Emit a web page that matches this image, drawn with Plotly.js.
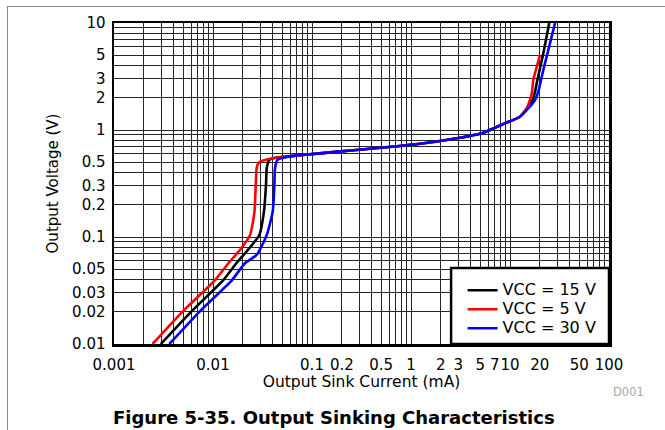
<!DOCTYPE html>
<html>
<head>
<meta charset="utf-8">
<script src="https://cdn.plot.ly/plotly-3.0.1.min.js"></script>
<style>
  html, body { margin: 0; padding: 0; background: #fff; }
  #wrap { position: relative; width: 665px; height: 430px; overflow: hidden; }
  #frame { position: absolute; left: 7px; top: 6px; width: 700px; height: 500px;
           border-left: 1px solid #8a8a8a; border-top: 1px solid #8a8a8a; pointer-events: none; }
</style>
</head>
<body>
<div id="wrap"><div id="chart"></div><div id="frame"></div></div>
<script>
// Output sink current (mA) / output voltage (V)
const red_I = [0.00245, 0.0049, 0.0105, 0.0143, 0.0187, 0.0237, 0.0262, 0.027, 0.0276, 0.0287, 0.031, 0.0407, 0.0555, 0.12, 0.28, 0.77, 1.35, 2.9, 5.4, 8.6, 12.6, 14.7, 15.9, 16.7, 17.2, 20.1];
const red_V = [0.01, 0.02, 0.0396, 0.0568, 0.0756, 0.1045, 0.17, 0.3, 0.44, 0.49, 0.513, 0.544, 0.563, 0.605, 0.65, 0.709, 0.751, 0.836, 0.944, 1.14, 1.33, 1.59, 1.9, 2.28, 2.93, 5.0];

const black_I = [0.00297, 0.006, 0.0127, 0.0172, 0.0225, 0.0294, 0.0327, 0.0343, 0.0349, 0.037, 0.0423, 0.07, 0.12, 0.28, 0.77, 1.35, 2.9, 5.4, 8.6, 12.6, 14.8, 16.9, 17.9, 18.9, 21.7, 24.9];
const black_V = [0.01, 0.02, 0.0396, 0.0568, 0.0756, 0.1045, 0.1725, 0.306, 0.4385, 0.525, 0.55, 0.578, 0.605, 0.65, 0.709, 0.751, 0.836, 0.944, 1.14, 1.33, 1.59, 1.9, 2.28, 2.93, 5.2, 10];

const blue_I = [0.00362, 0.00728, 0.01556, 0.021, 0.0276, 0.0349, 0.0401, 0.0417, 0.0423, 0.0447, 0.0513, 0.08, 0.12, 0.28, 0.77, 1.35, 2.9, 5.4, 8.6, 12.6, 15.3, 17.9, 19.3, 21.7, 24.4, 28.5];
const blue_V = [0.01, 0.02, 0.0396, 0.0568, 0.068, 0.1045, 0.1725, 0.306, 0.4385, 0.525, 0.55, 0.585, 0.605, 0.65, 0.709, 0.751, 0.836, 0.944, 1.14, 1.33, 1.59, 1.905, 2.28, 3.64, 5.6, 10];

const seriesNames = ['VCC = 15 V', 'VCC = 5 V', 'VCC = 30 V'];

// tick labels
const xLabels = ['0.001', '0.01', '0.1', '0.2', '0.5', '1', '2', '3', '5', '7', '10', '20', '50', '100'];
const yLabels = ['0.01', '0.02', '0.03', '0.05', '0.1', '0.2', '0.3', '0.5', '1', '2', '3', '5', '10'];

const xDecades = [-3, -2, -1, 0, 1];
const yDecades = [-2, -1, 0];
const mantissas = [1, 2, 3, 4, 5, 6, 7, 8, 9];

function gridTicks(decades, labels) {
  const vals = [], text = [];
  decades.forEach(d => mantissas.forEach(m => {
    const v = +(m * Math.pow(10, d)).toPrecision(6);
    vals.push(v);
    text.push(labels.indexOf(String(v)) >= 0 ? String(v) : '');
  }));
  const top = +Math.pow(10, decades[decades.length - 1] + 1).toPrecision(6);
  vals.push(top);
  text.push(labels.indexOf(String(top)) >= 0 ? String(top) : '');
  return {vals, text};
}
const xt = gridTicks(xDecades, xLabels);
const yt = gridTicks(yDecades, yLabels);

const FONT = 'DejaVu Sans, Arial, sans-serif';
const lineW = 2.6;

function legendName(s) { return '<span style="font-size:16px">' + s + '</span>'; }

const traces = [
  {x: black_I, y: black_V, name: legendName(seriesNames[0]), mode: 'lines', line: {color: '#000000', width: lineW, shape: 'spline', smoothing: 0.5}},
  {x: red_I, y: red_V, name: legendName(seriesNames[1]), mode: 'lines', line: {color: '#ff0000', width: lineW, shape: 'spline', smoothing: 0.5}},
  {x: blue_I, y: blue_V, name: legendName(seriesNames[2]), mode: 'lines', line: {color: '#0000ff', width: lineW, shape: 'spline', smoothing: 0.5}}
];

const axisCommon = {
  type: 'log',
  showgrid: true,
  gridcolor: '#262626',
  gridwidth: 1,
  showline: true,
  linecolor: '#000',
  linewidth: 2.5,
  mirror: true,
  ticks: '',
  zeroline: false,
  tickmode: 'array',
  tickangle: 0,
  tickfont: {family: FONT, size: 15, color: '#000'},
  fixedrange: true
};

const layout = {
  width: 665,
  height: 430,
  margin: {l: 114, r: 56, t: 23, b: 86},
  paper_bgcolor: '#fff',
  plot_bgcolor: '#fff',
  showlegend: true,
  font: {family: FONT, color: '#000'},
  title: {
    text: '<b>Figure 5-35. Output Sinking Characteristics</b>',
    font: {family: FONT, size: 18, color: '#000'},
    x: 0.502, xref: 'container', xanchor: 'center',
    y: 1 - 418 / 430, yref: 'container', yanchor: 'middle'
  },
  xaxis: Object.assign({}, axisCommon, {
    range: [-3, 2],
    tickvals: xt.vals,
    ticktext: xt.text,
    ticklabelstandoff: 5,
    title: {text: 'Output Sink Current (mA)', font: {family: FONT, size: 15.5}, standoff: 3}
  }),
  yaxis: Object.assign({}, axisCommon, {
    range: [-2, 1],
    tickvals: yt.vals,
    ticktext: yt.text,
    ticklabelstandoff: 3,
    title: {text: 'Output Voltage (V)', font: {family: FONT, size: 15}, standoff: 10}
  }),
  legend: {
    x: 0.985, xanchor: 'right', y: 0.004, yanchor: 'bottom',
    bgcolor: 'rgba(0,0,0,0)', borderwidth: 0,
    font: {family: FONT, size: 12, color: '#000'},
    tracegroupgap: 0
  },
  shapes: [
    {type: 'rect', xref: 'paper', yref: 'paper', x0: 0.681, x1: 1, y0: 0, y1: 0.237,
     fillcolor: '#fff', line: {color: '#000', width: 2.5}, layer: 'above'}
  ],
  annotations: [
    {text: 'D001', xref: 'paper', yref: 'paper', x: (628 - 114) / 495, y: (344 - 392) / 321,
     showarrow: false, font: {family: FONT, size: 11.5, color: '#a8a8a8'}, xanchor: 'center', yanchor: 'middle'}
  ]
};

Plotly.newPlot('chart', traces, layout, {displayModeBar: false, staticPlot: true});
</script>
</body>
</html>
